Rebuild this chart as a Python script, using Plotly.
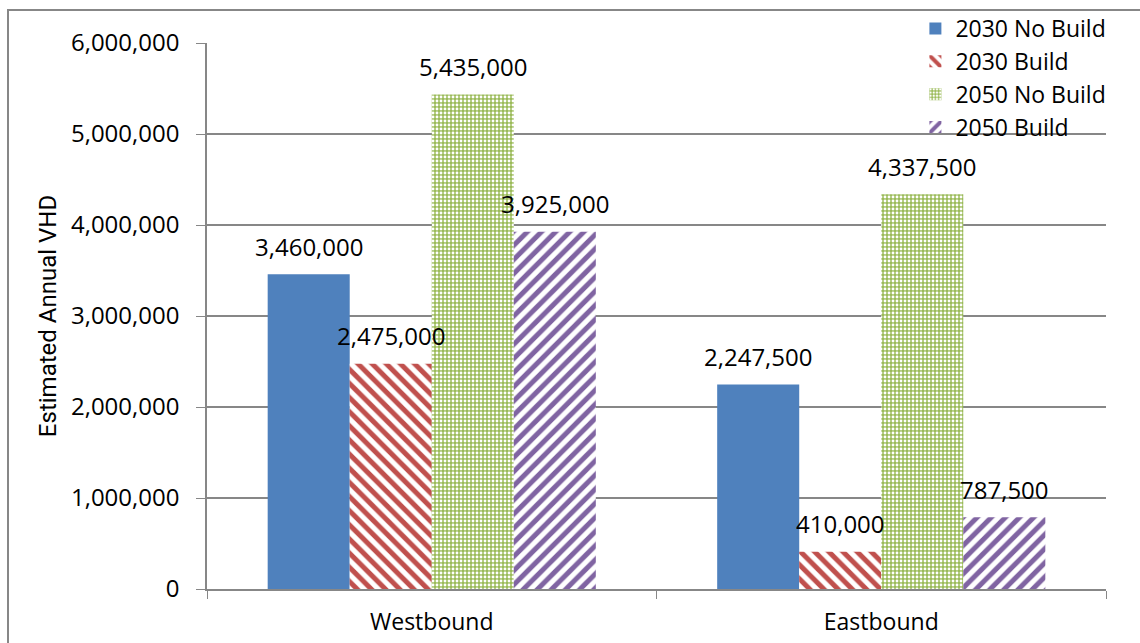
import plotly.graph_objects as go

categories = ["Westbound", "Eastbound"]
series_names = ["2030 No Build", "2030 Build", "2050 No Build", "2050 Build"]
v_2030_nb = [3460000, 2247500]
v_2030_b = [2475000, 410000]
v_2050_nb = [5435000, 4337500]
v_2050_b = [3925000, 787500]
y_ticks = [0, 1000000, 2000000, 3000000, 4000000, 5000000, 6000000]

FONT = "Open Sans"
W, H = 1140, 643
ML, MR, MT, MB = 207, 34, 43, 54
BARGAP = 0.27

styles = [
    dict(color="#4F81BD", pattern=None),
    dict(color="white", pattern=dict(shape="\\", fgcolor="#C0504D", bgcolor="white", size=10,
                                     solidity=0.5, fillmode="replace", fgopacity=1)),
    dict(color="#9BBB59", pattern=dict(shape=".", fgcolor="white", bgcolor="#9BBB59", size=4,
                                       solidity=0.4, fillmode="replace", fgopacity=1)),
    dict(color="white", pattern=dict(shape="/", fgcolor="#8064A2", bgcolor="white", size=10,
                                     solidity=0.5, fillmode="replace", fgopacity=1)),
]
values = [v_2030_nb, v_2030_b, v_2050_nb, v_2050_b]

fig = go.Figure()
for name, vals, st in zip(series_names, values, styles):
    marker = dict(color=st["color"], line=dict(width=0))
    if st["pattern"]:
        marker["pattern"] = st["pattern"]
    fig.add_trace(go.Bar(x=categories, y=vals, name=name, marker=marker))

# data labels on top of all bars (annotations are drawn above every trace)
plot_w = W - ML - MR
cat_w = plot_w / len(categories)
bar_w = cat_w * (1 - BARGAP) / len(values)
annotations = []
for i, vals in enumerate(values):
    dx = (i - (len(values) - 1) / 2) * bar_w
    for cat, v in zip(categories, vals):
        annotations.append(dict(x=cat, y=v, xref="x", yref="y", text=f"{v:,}",
                                showarrow=False, xshift=dx, yshift=28, yanchor="middle",
                                font=dict(family=FONT, size=24, color="black")))

fig.update_layout(
    width=W, height=H,
    margin=dict(l=ML, r=MR, t=MT, b=MB, autoexpand=False),
    paper_bgcolor="white", plot_bgcolor="white",
    barmode="group", bargap=BARGAP, bargroupgap=0,
    font=dict(family=FONT, size=23, color="black"),
    showlegend=True,
    legend=dict(x=1.006, xanchor="right", y=1.066, yanchor="top",
                bgcolor="rgba(0,0,0,0)", font=dict(family=FONT, size=23),
                tracegroupgap=0, itemwidth=30),
    xaxis=dict(showline=True, linecolor="#878787", linewidth=1.5,
               ticks="outside", tickson="boundaries", ticklen=8, tickcolor="#878787",
               tickfont=dict(family=FONT, size=23), showgrid=False, ticklabelstandoff=12),
    yaxis=dict(range=[0, 6000000], tickvals=y_ticks, tickformat=",",
               showline=True, linecolor="#878787", linewidth=1.5,
               ticks="outside", ticklen=9, tickcolor="#878787",
               showgrid=True, gridcolor="#878787", gridwidth=1.5,
               tickfont=dict(family=FONT, size=24), ticklabelstandoff=12,
               zeroline=False,
               title=dict(text="Estimated Annual VHD",
                          font=dict(family="Roboto", size=24),
                          standoff=8)),
    annotations=annotations,
    shapes=[dict(type="rect", xref="paper", yref="paper",
                 x0=(8 - ML) / plot_w, x1=(1150 - ML) / plot_w,
                 y0=(589 - 660) / 546, y1=(589 - 10) / 546,
                 line=dict(color="#878787", width=2), fillcolor="rgba(0,0,0,0)", layer="below")],
)

fig.write_html("out.html")
